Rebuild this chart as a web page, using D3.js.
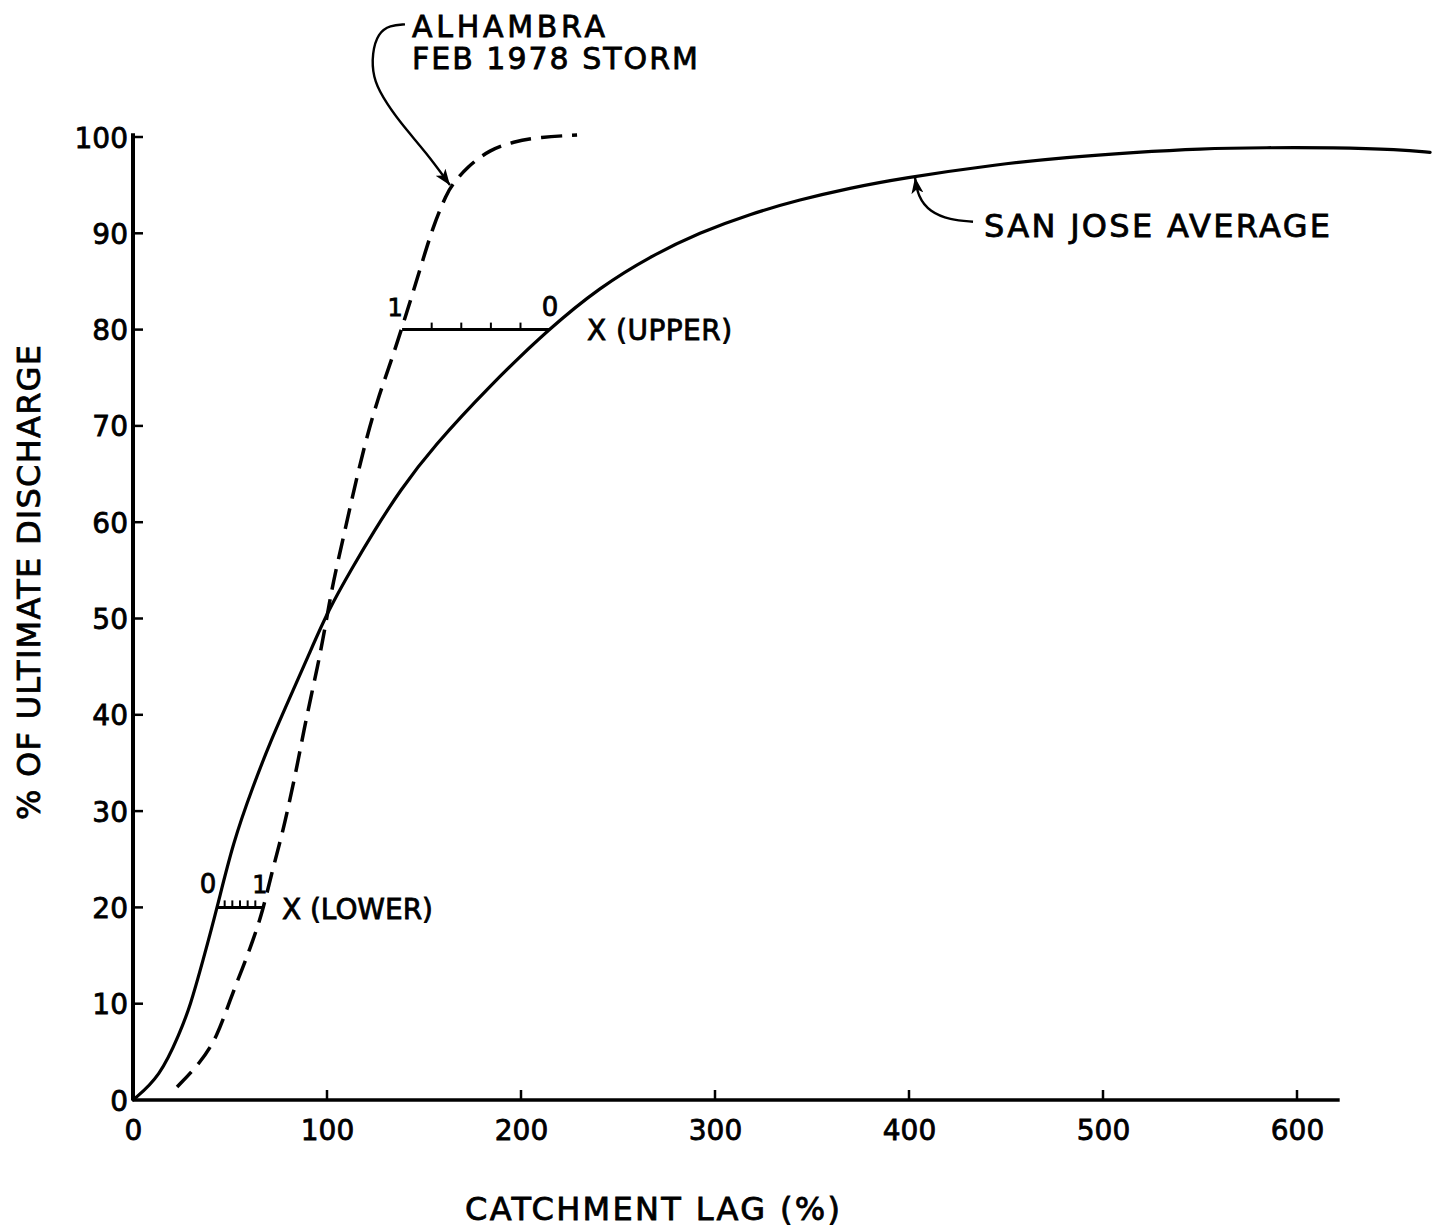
<!DOCTYPE html>
<html>
<head>
<meta charset="utf-8">
<script src="https://cdn.jsdelivr.net/npm/d3@7"></script>
<style>
  html, body { margin: 0; padding: 0; background: #fff; }
  svg { display: block; }
  text { font-family: "DejaVu Sans", "Liberation Sans", sans-serif; fill: #000; stroke: #000; stroke-width: 0.8px; }
</style>
</head>
<body>
<svg id="chart" width="1441" height="1227"></svg>
<script>
// Axis ticks
const lagTicks = [0, 100, 200, 300, 400, 500, 600];
const pctTicks = [0, 10, 20, 30, 40, 50, 60, 70, 80, 90, 100];

// San Jose average curve (catchment lag %, % of ultimate discharge)
const sanJoseLag = [0, 13.9, 24.2, 29.4, 36.1, 43.3, 51.5, 61.9, 70.6, 80.9, 91.2, 100.5, 113.4, 123.7, 137.6, 154.6, 184, 215, 240.7, 266.5, 292.3, 318, 343.8, 369.6, 395.4, 446.9, 481.4, 515.5, 550, 584.5, 618.6, 653, 668.6];
const sanJosePct = [0, 2.4, 7.0, 9.7, 14.5, 19.9, 26.7, 32.6, 37.1, 41.8, 46.5, 50.8, 55.4, 58.9, 63.3, 67.8, 74.2, 80.2, 84.4, 87.6, 90.1, 92.0, 93.5, 94.7, 95.7, 97.2, 97.9, 98.4, 98.8, 98.9, 98.9, 98.7, 98.4];

// Alhambra, Feb 1978 storm
const alhambraLag = [22.7, 34.5, 43.3, 50, 56.7, 61.9, 67, 71.5, 76.8, 81.0, 84.5, 88.0, 92.5, 96.4, 100, 103.1, 108.2, 113.5, 119.6, 126.0, 132.5, 138.7, 147.9, 154.6, 161.9, 164.4, 172.2, 184, 195.9, 209.8, 228.9];
const alhambraPct = [1.35, 3.8, 6.5, 10.4, 13.8, 16.6, 19.7, 23.6, 27.5, 31.3, 34.6, 38.3, 42.6, 46.2, 50.2, 53.7, 58.2, 63.0, 68.2, 72.7, 76.4, 80.2, 86.2, 90.7, 94.2, 95.0, 96.9, 98.7, 99.5, 100, 100.2];

// X measurement bars: lag between the two curves at a given discharge level
const xBarNames = ["X (LOWER)", "X (UPPER)"];
const xBarPct = [20, 80];
const xBarSanJose = [43.3, 215];
const xBarAlhambra = [67, 138.7];
const xBarDivisions = [6, 5];

// Leader lines for the curve labels (lag %, discharge %)
const alhambraLeaderLag = [140.2, 132.5, 126.3, 123.2, 123.7, 128.4, 137.6, 151.5, 163.4];
const alhambraLeaderPct = [111.7, 111.6, 110.8, 108.7, 106.2, 104.2, 101.5, 98.3, 95.0];
const sanJoseLeaderLag = [433.0, 421.1, 410.8, 404.6, 403.1];
const sanJoseLeaderPct = [91.2, 91.4, 92.2, 93.8, 95.8];

const svg = d3.select("#chart");

const x = d3.scaleLinear().domain([0, 600]).range([133, 1297]);
const y = d3.scaleLinear().domain([0, 100]).range([1100, 137]);

// arrowhead
svg.append("defs").append("marker")
  .attr("id", "arrow")
  .attr("viewBox", "0 0 16 12")
  .attr("refX", 16).attr("refY", 6)
  .attr("markerUnits", "userSpaceOnUse")
  .attr("markerWidth", 16).attr("markerHeight", 12)
  .attr("orient", "auto")
  .append("path").attr("d", "M0,0 L16,6 L0,12 L4,6 Z").attr("fill", "#000");

// axes
const xAxis = d3.axisBottom(x).tickValues(lagTicks).tickSize(0).tickPadding(0).tickFormat(d3.format("d"));
const yAxis = d3.axisLeft(y).tickValues(pctTicks).tickSize(0).tickPadding(0).tickFormat(d3.format("d"));

const gx = svg.append("g").attr("transform", `translate(0,${y(0)})`).call(xAxis);
gx.select(".domain").remove();
gx.selectAll(".tick text").attr("font-size", 28).attr("dy", 0).attr("y", 40)
  .attr("font-family", '"DejaVu Sans", sans-serif').attr("fill", "#000");

const gy = svg.append("g").attr("transform", `translate(${x(0) - 5},0)`).call(yAxis);
gy.select(".domain").remove();
gy.selectAll(".tick text").attr("font-size", 28).attr("dy", "0.36em").attr("x", 0)
  .attr("font-family", '"DejaVu Sans", sans-serif').attr("fill", "#000");

// axis lines
svg.append("line")
  .attr("x1", x(0)).attr("y1", y(0)).attr("x2", x(622)).attr("y2", y(0))
  .attr("stroke", "#000").attr("stroke-width", 3.5);
svg.append("line")
  .attr("x1", x(0)).attr("y1", y(0)).attr("x2", x(0)).attr("y2", y(100.4))
  .attr("stroke", "#000").attr("stroke-width", 4);

// inward tick marks
svg.append("g").selectAll("line").data(lagTicks.filter(d => d > 0)).join("line")
  .attr("x1", d => x(d)).attr("x2", d => x(d))
  .attr("y1", y(0)).attr("y2", y(0) - 10)
  .attr("stroke", "#000").attr("stroke-width", 2.5);
svg.append("g").selectAll("line").data(pctTicks.filter(d => d > 0)).join("line")
  .attr("x1", x(0)).attr("x2", x(0) + 10)
  .attr("y1", d => y(d)).attr("y2", d => y(d))
  .attr("stroke", "#000").attr("stroke-width", 2.5);

// axis titles
svg.append("text")
  .attr("x", 465).attr("y", 1220)
  .attr("font-size", 32).attr("textLength", 375).attr("lengthAdjust", "spacing")
  .text("CATCHMENT LAG (%)");
svg.append("text")
  .attr("transform", "translate(40,820) rotate(-90)")
  .attr("font-size", 32).attr("textLength", 475).attr("lengthAdjust", "spacing")
  .text("% OF ULTIMATE DISCHARGE");

// curves
const line = d3.line().x(d => x(d[0])).y(d => y(d[1])).curve(d3.curveBasis);

svg.append("path")
  .datum(d3.zip(sanJoseLag, sanJosePct))
  .attr("d", line)
  .attr("fill", "none").attr("stroke", "#000").attr("stroke-width", 3.2)
  .attr("stroke-linecap", "round");

svg.append("path")
  .datum(d3.zip(alhambraLag, alhambraPct))
  .attr("d", line)
  .attr("fill", "none").attr("stroke", "#000").attr("stroke-width", 3.5)
  .attr("stroke-dasharray", "21,10");

// X bars with graduations
xBarPct.forEach((p, i) => {
  const a = Math.min(xBarSanJose[i], xBarAlhambra[i]);
  const b = Math.max(xBarSanJose[i], xBarAlhambra[i]);
  const g = svg.append("g");
  g.append("line")
    .attr("x1", x(a)).attr("x2", x(b)).attr("y1", y(p)).attr("y2", y(p))
    .attr("stroke", "#000").attr("stroke-width", 3);
  const n = xBarDivisions[i];
  g.selectAll("line.div").data(d3.range(1, n)).join("line").attr("class", "div")
    .attr("x1", k => x(a + (b - a) * k / n)).attr("x2", k => x(a + (b - a) * k / n))
    .attr("y1", y(p)).attr("y2", y(p) - 7)
    .attr("stroke", "#000").attr("stroke-width", 2);
  // 0 at the San Jose end, 1 at the Alhambra end
  g.append("text").attr("x", x(xBarSanJose[i]) - (i === 0 ? 9 : 0)).attr("y", y(p) - 14)
    .attr("text-anchor", "middle").attr("font-size", 26).text("0");
  g.append("text").attr("x", x(xBarAlhambra[i]) - (i === 0 ? 3 : 7)).attr("y", y(p) - 14)
    .attr("text-anchor", "middle").attr("font-size", 24).text("1");
  g.append("text")
    .attr("x", x(b) + (i === 0 ? 19 : 37)).attr("y", y(p) + (i === 0 ? 12 : 10))
    .attr("font-size", 28)
    .attr("textLength", i === 0 ? 151 : 145).attr("lengthAdjust", "spacing")
    .text(xBarNames[i]);
});

// leader lines
const leader = d3.line().x(d => x(d[0])).y(d => y(d[1])).curve(d3.curveBasis);
const alhambraLeader = d3.zip(alhambraLeaderLag, alhambraLeaderPct);
const sanJoseLeader = d3.zip(sanJoseLeaderLag, sanJoseLeaderPct);

svg.append("path").datum(alhambraLeader).attr("d", leader)
  .attr("fill", "none").attr("stroke", "#000").attr("stroke-width", 2.4)
  .attr("marker-end", "url(#arrow)");
svg.append("path").datum(sanJoseLeader).attr("d", leader)
  .attr("fill", "none").attr("stroke", "#000").attr("stroke-width", 2.4)
  .attr("marker-end", "url(#arrow)");

// curve labels
const aStart = alhambraLeader[0];
svg.append("text")
  .attr("x", x(aStart[0]) + 7).attr("y", y(aStart[1]) + 13)
  .attr("font-size", 30).attr("textLength", 193).attr("lengthAdjust", "spacing")
  .text("ALHAMBRA");
svg.append("text")
  .attr("x", x(aStart[0]) + 7).attr("y", y(aStart[1]) + 45)
  .attr("font-size", 30).attr("textLength", 286).attr("lengthAdjust", "spacing")
  .text("FEB 1978 STORM");

const sStart = sanJoseLeader[0];
svg.append("text")
  .attr("x", x(sStart[0]) + 11).attr("y", y(sStart[1]) + 15)
  .attr("font-size", 32).attr("textLength", 346).attr("lengthAdjust", "spacing")
  .text("SAN JOSE AVERAGE");
</script>
</body>
</html>
